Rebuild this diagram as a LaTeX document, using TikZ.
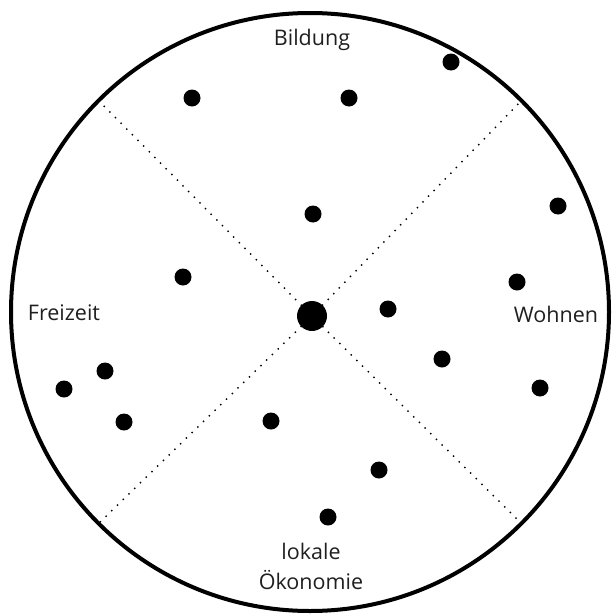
\documentclass[tikz,border=0pt]{standalone}
\usepackage{fontspec}
\setmainfont{Open Sans}
\usepackage{tikz}

\begin{document}
\begin{tikzpicture}[
  x=1pt, y=-1pt,
  dot/.style={circle, fill=black, inner sep=0pt, minimum size=17pt},
  hub/.style={circle, fill=black, inner sep=0pt, minimum size=30pt},
  label/.style={font=\fontsize{21.5}{30}\selectfont, align=center, text=black!88},
  spoke/.style={line width=2pt, line cap=round, dash pattern=on 0pt off 8pt}
]
  \useasboundingbox (0,0) rectangle (611,616);

  % outer ring
  \node (ring) [circle, draw, line width=4pt, minimum size=598pt, inner sep=0pt] at (310,312) {};
  \node (c) [hub] at (312,316) {};

  % sector borders
  \coordinate (nw) at (ring.north west);
  \coordinate (ne) at (ring.north east);
  \coordinate (sw) at (ring.south west);
  \coordinate (se) at (ring.south east);
  \draw[spoke] (c) -- (nw);
  \draw[spoke] (c) -- (ne);
  \draw[spoke] (c) -- (sw);
  \draw[spoke] (c) -- (se);

  % sector names
  \node (bil) [label] at (312,40) {Bildung};
  \node (frz) [label] at (64,313) {Freizeit};
  \node (woh) [label] at (556,314) {Wohnen};
  \node (oek) [label] at (311,566) {lokale\\Ökonomie};

  % points
  \node (p1) [dot] at (451,62) {};
  \node (p2) [dot] at (192,98) {};
  \node (p3) [dot] at (349,98) {};
  \node (p4) [dot] at (313,214) {};
  \node (p5) [dot] at (558,206) {};
  \node (p6) [dot] at (183,277) {};
  \node (p7) [dot] at (517,282) {};
  \node (p8) [dot] at (388,309) {};
  \node (p9) [dot] at (105,371) {};
  \node (p10) [dot] at (64,389) {};
  \node (p11) [dot] at (442,359) {};
  \node (p12) [dot] at (540,388) {};
  \node (p13) [dot] at (124,422) {};
  \node (p14) [dot] at (271,421) {};
  \node (p15) [dot] at (379,470) {};
  \node (p16) [dot] at (328,517) {};
\end{tikzpicture}
\end{document}
